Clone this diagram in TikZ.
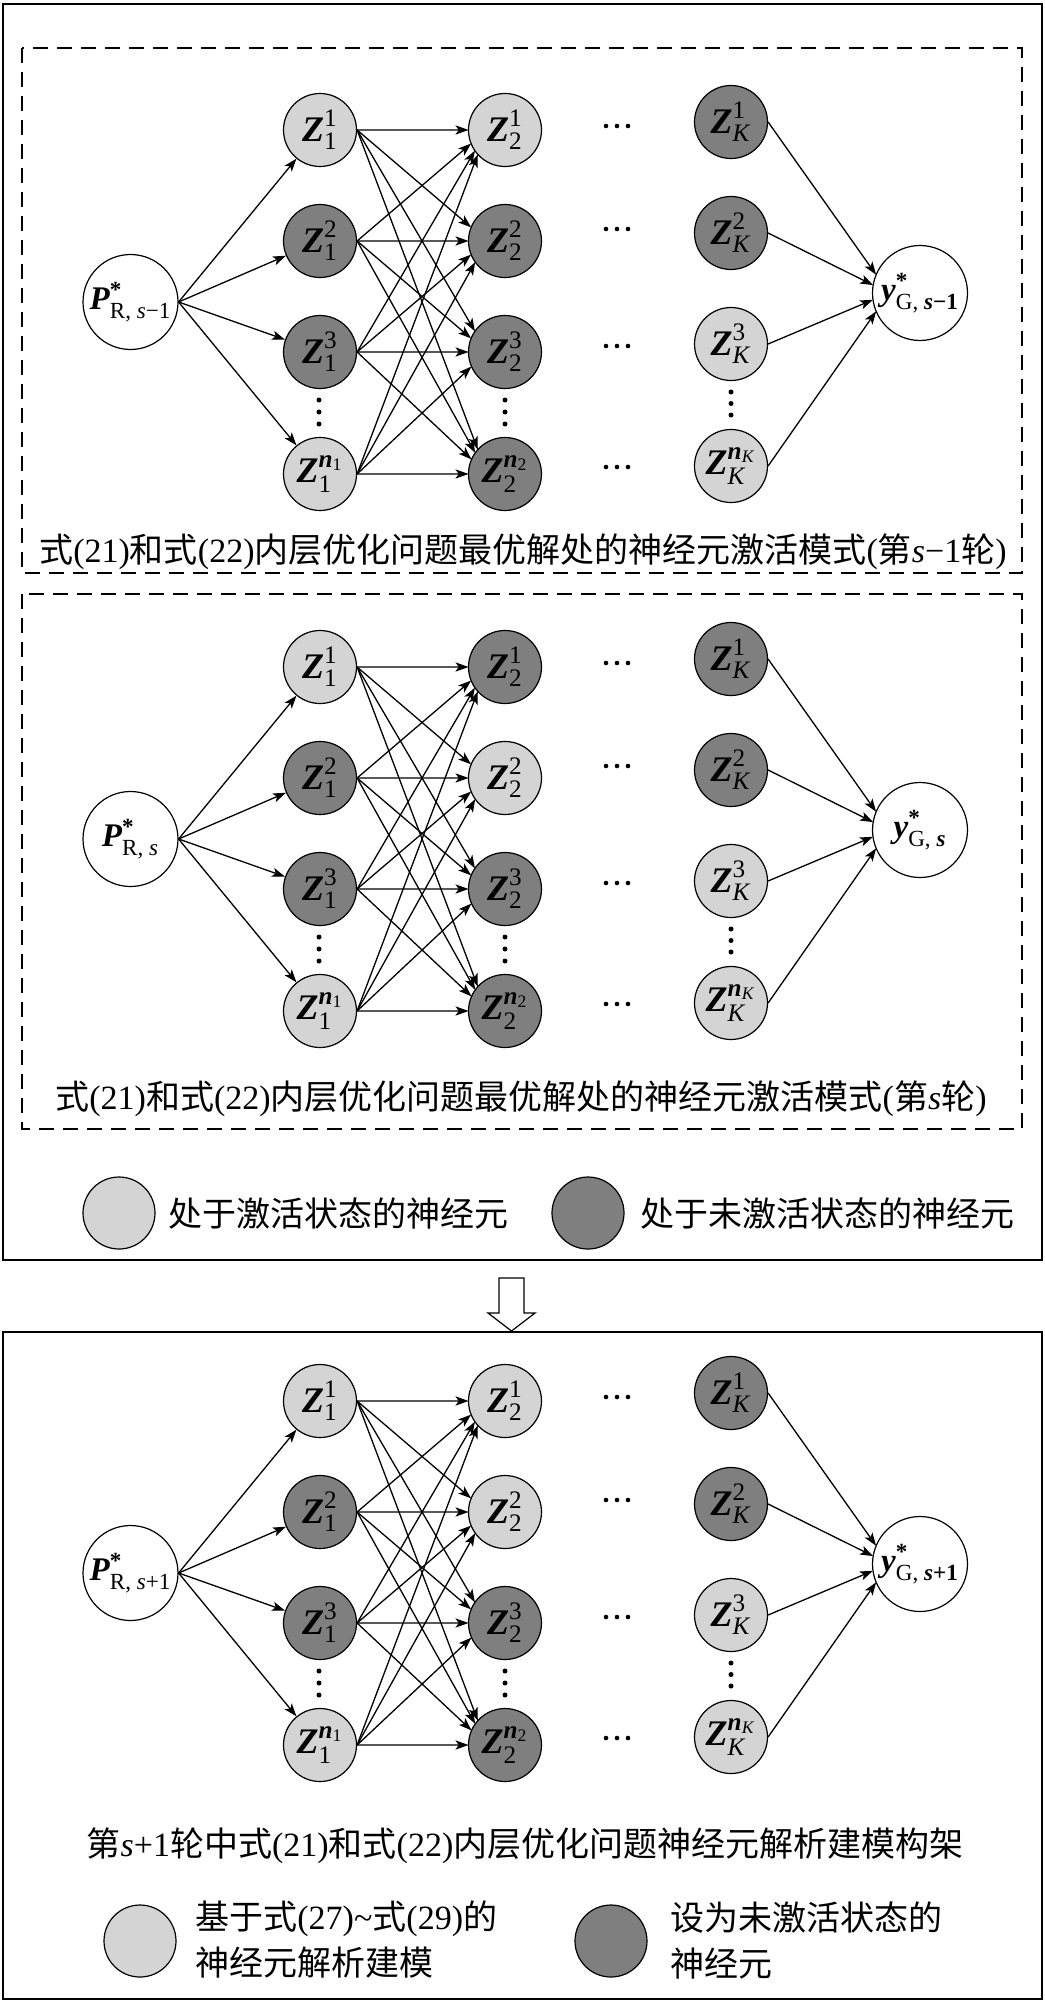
\documentclass[tikz,border=0pt]{standalone}
\usepackage{fontspec}
\usepackage{amsmath}
\setmainfont{Liberation Serif}
\newfontfamily\cjk{Noto Sans CJK SC}
\usetikzlibrary{arrows.meta,calc,intersections}
\definecolor{lightn}{RGB}{212,212,212}
\definecolor{darkn}{RGB}{127,127,127}
\newcommand\BZ{\textbf{\textit{Z}}}
\newcommand\ZL[2]{$\text{\BZ}^{\text{#1}}_{\text{#2}}$}
\newcommand\NS[1]{\textbf{\textit{n}}$_{\text{#1}}$}
\newcommand\PL[1]{$\text{\textbf{\textit{P}}}^{\text{\textbf{*}}}_{\text{R, #1}}$}
\newcommand\YL[1]{$\text{\textbf{\textit{y}}}^{\text{\textbf{*}}}_{\text{G, #1}}$}
\tikzset{
  neu/.style={circle, draw=black, line width=0.6pt, minimum size=36.5pt, inner sep=0pt, font=\fontsize{18}{20}\selectfont},
  lt/.style={neu, fill=lightn},
  dk/.style={neu, fill=darkn},
  io/.style={circle, draw=black, line width=0.6pt, fill=white, minimum size=47.5pt, inner sep=0pt, font=\fontsize{16.5}{18}\selectfont},
  arr/.style={line width=0.65pt, -{Stealth[length=6.5pt,width=4.6pt,inset=1.6pt]}},
  dbox/.style={draw=black, line width=0.7pt, dash pattern=on 7.5pt off 4.5pt},
  obox/.style={draw=black, line width=1pt},
  captext/.style={inner sep=0pt, font=\fontsize{17}{22}\selectfont},
  legtext/.style={inner sep=0pt, anchor=west, align=left, font=\fontsize{17}{23}\selectfont},
  legc/.style={circle, draw=black, line width=0.6pt, minimum size=36pt, inner sep=0pt},
}
% #1 y offset, #2 name prefix, #3 P label, #4 y label, #5 style of Z2^1, #6 style of Z2^2
\newcommand\drawpanel[6]{%
  \node[io] (#2p) at (130.5,{302+#1}) {#3};
  \node[io] (#2y) at (920,{293+#1}) {#4};
  \node[lt] (#2a1) at (320,{130+#1}) {\ZL{1}{1}};
  \node[dk] (#2a2) at (320,{241+#1}) {\ZL{2}{1}};
  \node[dk] (#2a3) at (320,{352+#1}) {\ZL{3}{1}};
  \node[lt] (#2a4) at (320,{474+#1}) {\ZL{\NS{1}}{1}};
  \node[#5] (#2b1) at (505,{130+#1}) {\ZL{1}{2}};
  \node[#6] (#2b2) at (505,{241+#1}) {\ZL{2}{2}};
  \node[dk] (#2b3) at (505,{352+#1}) {\ZL{3}{2}};
  \node[dk] (#2b4) at (505,{474+#1}) {\ZL{\NS{2}}{2}};
  \node[dk] (#2k1) at (731,{122+#1}) {\ZL{1}{\textit{K}}};
  \node[dk] (#2k2) at (731,{233+#1}) {\ZL{2}{\textit{K}}};
  \node[lt] (#2k3) at (731,{344+#1}) {\ZL{3}{\textit{K}}};
  \node[lt] (#2k4) at (731,{466+#1}) {\ZL{\NS{\textit{K}}}{\textit{K}}};
  \foreach \xx/\yy in {319/400,319/412,319/424,505/400,505/412,505/424,731/392,731/403.5,731/415}
    \fill (\xx,{\yy+#1}) circle[radius=1.25pt];
  \foreach \yy in {126,229,346,467}
    \foreach \xx in {606,617,628}
      \fill (\xx,{\yy+#1}) circle[radius=1.15pt];
  \foreach \i in {1,2,3,4}{
    \draw[arr] (#2p.east) -- (#2a\i);
    \foreach \j in {1,2,3,4}{
      \path[name path=ln] (#2a\i.east) -- ($(#2b\j.center)+(-9pt,0)$);
      \path[name path=cc] (#2b\j.center) circle[radius=18.25pt];
      \draw[arr, name intersections={of=ln and cc}] (#2a\i.east) -- (intersection-1);
    }
    \path[name path=ln] (#2k\i.east) -- ($(#2y.center)+(-15.5pt,0)$);
    \path[name path=cc] (#2y.center) circle[radius=23.75pt];
    \draw[arr, name intersections={of=ln and cc}] (#2k\i.east) -- (intersection-1);
  }
}
\begin{document}
\begin{tikzpicture}[x=0.5pt,y=-0.5pt]
\useasboundingbox (0,0) rectangle (1044,2001);
% frames
\draw[obox] (3,4) rectangle (1041.5,1260);
\draw[dbox] (22,48) rectangle (1022,573);
\draw[dbox] (22,594) rectangle (1022,1129);
\draw[obox] (3,1332) rectangle (1041.5,1999);
% panels
\drawpanel{0}{A}{\PL{\textit{s}−1}}{\YL{\textbf{\textit{s}−1}}}{lt}{dk}
\drawpanel{537}{B}{\PL{\textit{s}}}{\YL{\textbf{\textit{s}}}}{dk}{lt}
\drawpanel{1271}{C}{\PL{\textit{s}+1}}{\YL{\textbf{\textit{s}+1}}}{lt}{lt}
% captions
\node[captext] (cap1) at (523,552) {{\cjk 式}(21){\cjk 和式}(22){\cjk 内层优化问题最优解处的神经元激活模式}({\cjk 第}\textit{s}−1{\cjk 轮})};
\node[captext] (cap2) at (521,1099) {{\cjk 式}(21){\cjk 和式}(22){\cjk 内层优化问题最优解处的神经元激活模式}({\cjk 第}\textit{s}{\cjk 轮})};
\node[captext] (cap3) at (525,1846) {{\cjk 第}\textit{s}+1{\cjk 轮中式}(21){\cjk 和式}(22){\cjk 内层优化问题神经元解析建模构架}};
% legend 1
\node[legc, fill=lightn] (l1a) at (119,1213) {};
\node[legtext] (l1at) at (168,1214) {\cjk 处于激活状态的神经元};
\node[legc, fill=darkn] (l1b) at (588,1213) {};
\node[legtext] (l1bt) at (640,1214) {\cjk 处于未激活状态的神经元};
% transition arrow
\draw[line width=0.6pt, fill=white] (499,1278) -- (524,1278) -- (524,1313) -- (535,1313) -- (511.5,1331) -- (488,1313) -- (499,1313) -- cycle;
% legend 2
\node[legc, fill=lightn] (l2a) at (140,1941) {};
\node[legtext] (l2at) at (195,1940) {{\cjk 基于式}(27)\textasciitilde{\cjk 式}(29){\cjk 的}\\{\cjk 神经元解析建模}};
\node[legc, fill=darkn] (l2b) at (611,1941) {};
\node[legtext] (l2bt) at (670,1940) {{\cjk 设为未激活状态的}\\{\cjk 神经元}};
\end{tikzpicture}
\end{document}
